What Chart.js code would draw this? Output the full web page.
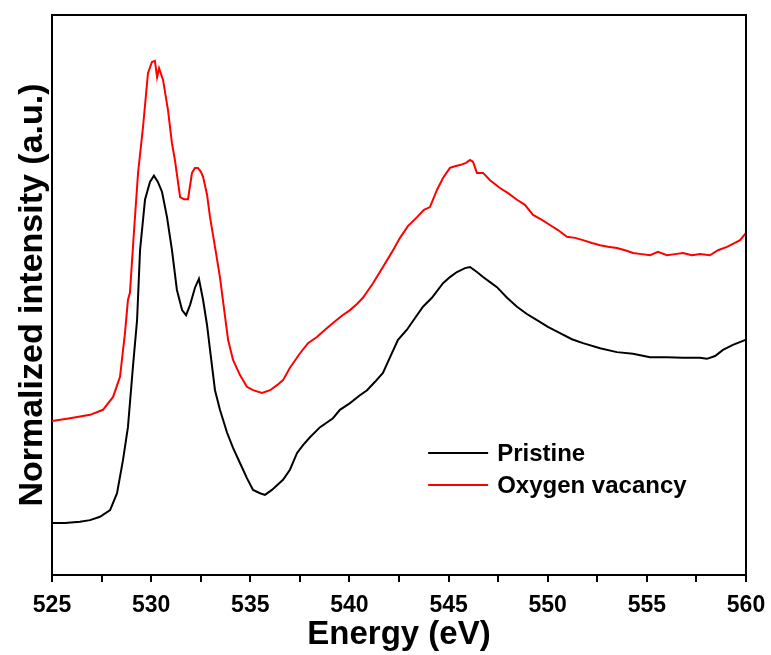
<!DOCTYPE html>
<html>
<head>
<meta charset="utf-8">
<script src="https://cdn.jsdelivr.net/npm/chart.js@4/dist/chart.umd.min.js"></script>
<style>
  html, body { margin: 0; padding: 0; background: #fff; }
  #wrap { width: 771px; height: 655px; position: relative; }
</style>
</head>
<body>
<div id="wrap"><canvas id="c" width="771" height="655"></canvas></div>
<script>
// ---- Data ----
const seriesLabels = ['Pristine', 'Oxygen vacancy'];
const seriesColors = ['#000000', '#ff0000'];
const xTickValues = [525, 530, 535, 540, 545, 550, 555, 560];

const energyPristine = [525.00,525.66,526.41,526.92,527.42,527.93,528.28,528.58,528.83,529.08,529.29,529.44,529.69,529.94,530.14,530.34,530.55,530.80,531.05,531.30,531.56,531.76,531.96,532.21,532.41,532.62,532.82,532.97,533.22,533.47,533.83,534.13,534.48,534.83,535.14,535.49,535.74,536.09,536.65,537.00,537.36,537.66,538.01,538.52,539.17,539.52,540.03,540.53,540.89,541.29,541.69,542.05,542.45,542.90,543.31,543.71,544.16,544.72,545.07,545.42,545.83,546.08,546.43,546.74,547.09,547.44,547.95,548.45,548.95,549.46,550.01,550.62,551.22,551.78,552.64,553.49,554.30,555.16,556.01,556.82,557.68,558.03,558.44,558.84,559.34,559.85,560.00];
const pristine = [0.093,0.093,0.095,0.098,0.104,0.116,0.146,0.205,0.264,0.371,0.455,0.580,0.670,0.702,0.713,0.702,0.684,0.639,0.580,0.509,0.473,0.464,0.482,0.513,0.529,0.491,0.446,0.402,0.330,0.295,0.254,0.227,0.200,0.173,0.152,0.146,0.143,0.152,0.170,0.188,0.218,0.232,0.246,0.264,0.280,0.295,0.307,0.321,0.330,0.345,0.361,0.389,0.420,0.438,0.459,0.479,0.495,0.521,0.532,0.541,0.548,0.550,0.541,0.532,0.523,0.514,0.495,0.479,0.466,0.455,0.443,0.432,0.421,0.414,0.405,0.398,0.395,0.389,0.389,0.388,0.388,0.386,0.391,0.402,0.411,0.418,0.420];

const energyOxygen = [525.00,525.91,526.92,527.57,528.08,528.43,528.68,528.83,528.93,529.14,529.34,529.59,529.84,530.04,530.19,530.30,530.40,530.60,530.85,531.05,531.20,531.46,531.66,531.86,532.06,532.21,532.36,532.51,532.62,532.82,532.97,533.22,533.47,533.62,533.88,534.13,534.48,534.83,535.14,535.59,536.00,536.35,536.65,537.00,537.51,537.91,538.36,538.77,539.17,539.62,540.03,540.38,540.68,541.19,541.69,542.15,542.55,542.95,543.41,543.76,544.06,544.42,544.72,545.07,545.32,545.58,545.88,546.08,546.23,546.43,546.74,547.09,547.59,548.00,548.45,548.85,549.26,549.71,550.11,550.52,550.97,551.38,551.78,552.23,552.64,553.04,553.49,553.90,554.30,554.75,555.16,555.56,556.01,556.42,556.82,557.28,557.68,558.18,558.59,559.04,559.44,559.70,560.00];
const oxygen = [0.275,0.280,0.286,0.295,0.318,0.354,0.432,0.491,0.504,0.616,0.718,0.800,0.896,0.916,0.918,0.889,0.905,0.884,0.830,0.771,0.741,0.675,0.671,0.671,0.718,0.727,0.727,0.720,0.711,0.679,0.639,0.586,0.532,0.491,0.420,0.384,0.357,0.336,0.330,0.325,0.330,0.339,0.348,0.370,0.396,0.414,0.425,0.438,0.450,0.463,0.473,0.484,0.495,0.521,0.550,0.577,0.602,0.623,0.639,0.652,0.657,0.688,0.709,0.727,0.730,0.732,0.736,0.741,0.738,0.718,0.718,0.705,0.691,0.682,0.670,0.661,0.643,0.634,0.625,0.616,0.604,0.602,0.598,0.593,0.589,0.586,0.584,0.580,0.575,0.573,0.571,0.577,0.571,0.573,0.575,0.571,0.573,0.571,0.580,0.586,0.593,0.598,0.611];

const FONT = '"Liberation Sans", Arial, Helvetica, sans-serif';

const toPts = (xs, ys) => xs.map((x, i) => ({ x: x, y: ys[i] }));

const framePlugin = {
  id: 'frame',
  afterDraw(chart) {
    const { ctx, chartArea: a } = chart;
    ctx.save();
    ctx.strokeStyle = '#000';
    ctx.lineWidth = 2;
    ctx.beginPath();
    ctx.moveTo(a.left, a.top);
    ctx.lineTo(a.right, a.top);
    ctx.lineTo(a.right, a.bottom);
    ctx.stroke();
    ctx.restore();
  }
};

const legendPlugin = {
  id: 'innerLegend',
  afterDraw(chart) {
    const { ctx, chartArea: a } = chart;
    const x0 = a.left + (a.right - a.left) * 0.542;
    const y0 = a.top + (a.bottom - a.top) * 0.782;
    ctx.save();
    ctx.font = 'bold 24px ' + FONT;
    ctx.textBaseline = 'middle';
    ctx.textAlign = 'left';
    chart.data.datasets.forEach((ds, i) => {
      const y = y0 + i * 32;
      ctx.strokeStyle = ds.borderColor;
      ctx.lineWidth = 2;
      ctx.beginPath();
      ctx.moveTo(x0, y);
      ctx.lineTo(x0 + 60, y);
      ctx.stroke();
      ctx.fillStyle = '#000';
      ctx.fillText(ds.label, x0 + 69, y + 1);
    });
    ctx.restore();
  }
};

new Chart(document.getElementById('c'), {
  type: 'line',
  data: {
    datasets: [
      { label: seriesLabels[0], data: toPts(energyPristine, pristine), borderColor: seriesColors[0], borderWidth: 2, pointRadius: 0, tension: 0, fill: false },
      { label: seriesLabels[1], data: toPts(energyOxygen, oxygen), borderColor: seriesColors[1], borderWidth: 2, pointRadius: 0, tension: 0, fill: false }
    ]
  },
  options: {
    responsive: false,
    animation: false,
    devicePixelRatio: 1,
    layout: { padding: { top: 15, right: 25, left: 0, bottom: 0 } },
    plugins: { legend: { display: false }, tooltip: { enabled: false } },
    scales: {
      x: {
        type: 'linear',
        min: 525, max: 560,
        afterFit: (s) => { s.height = 80; s.paddingLeft = 0; s.paddingRight = 0; },
        afterBuildTicks: (s) => {
          const t = [];
          for (let v = 525; v <= 560; v += 2.5) t.push({ value: v });
          s.ticks = t;
        },
        ticks: {
          autoSkip: false, maxRotation: 0, minRotation: 0,
          padding: 10,
          color: '#000',
          font: { family: FONT, size: 23, weight: 'bold' },
          callback: (v) => (xTickValues.includes(v) ? String(v) : '')
        },
        grid: { display: true, drawOnChartArea: false, drawTicks: true, tickLength: 7, color: '#000', lineWidth: 2 },
        border: { display: true, color: '#000', width: 2 },
        title: { display: true, text: 'Energy (eV)', color: '#000', font: { family: FONT, size: 33, weight: 'bold' }, padding: { top: 0, bottom: 0 } }
      },
      y: {
        type: 'linear',
        min: 0, max: 1,
        afterFit: (s) => { s.width = 52; },
        ticks: { display: false },
        grid: { display: false },
        border: { display: true, color: '#000', width: 2 },
        title: { display: true, text: 'Normalized intensity (a.u.)', color: '#000', font: { family: FONT, size: 34, weight: 'bold' }, padding: { top: 12, bottom: 0 } }
      }
    }
  },
  plugins: [framePlugin, legendPlugin]
});
</script>
</body>
</html>
